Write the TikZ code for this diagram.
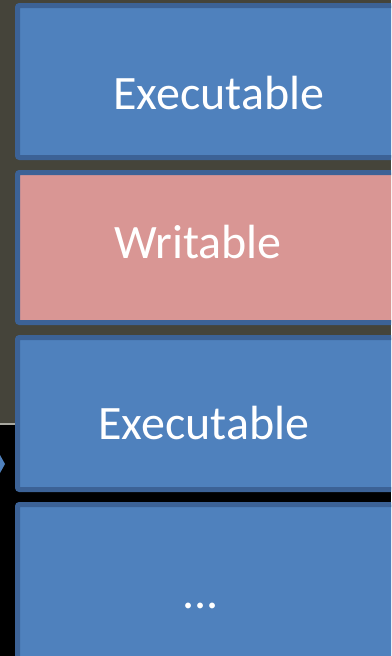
\documentclass[tikz,border=0pt]{standalone}
\usepackage{fontspec}
\setmainfont{Carlito}
\definecolor{olivebg}{HTML}{45443A}
\definecolor{boxblue}{HTML}{4F81BD}
\definecolor{boxedge}{HTML}{3C6296}
\definecolor{boxpink}{HTML}{D99694}
\definecolor{sepgray}{HTML}{A8A8A0}
\tikzset{
  memblock/.style={draw=boxedge, line width=5pt, rounded corners=2pt, fill=boxblue},
  memtext/.style={anchor=base west, inner sep=0pt, text=white, font=\fontsize{48}{57}\selectfont}
}
\begin{document}
\begin{tikzpicture}[x=1pt,y=-1pt]
\useasboundingbox (0,0) rectangle (391,656);
\clip (0,0) rectangle (391,656);
% background
\fill[olivebg] (0,0) rectangle (391,424);
\fill[black] (0,424) rectangle (391,656);
\fill[sepgray] (0,423) rectangle (15,425);
% small chevron at left edge
\fill[boxblue] (0,455) -- (5,464) -- (0,473) -- cycle;
% blocks
\draw[memblock] (17.5,5.5) rectangle (420,157.5);
\draw[memblock, fill=boxpink] (17.5,172.5) rectangle (420,322.5);
\draw[memblock] (17.5,337.5) rectangle (420,489.5);
\draw[memblock] (17.5,504.5) rectangle (420,700);
% labels
\node[memtext] (t1) at (113,109) {Executable};
\node[memtext] (t2) at (114,258) {Writable};
\node[memtext] (t3) at (98,439) {Executable};
\node[memtext] (t4) at (182,608) {...};
\end{tikzpicture}
\end{document}
